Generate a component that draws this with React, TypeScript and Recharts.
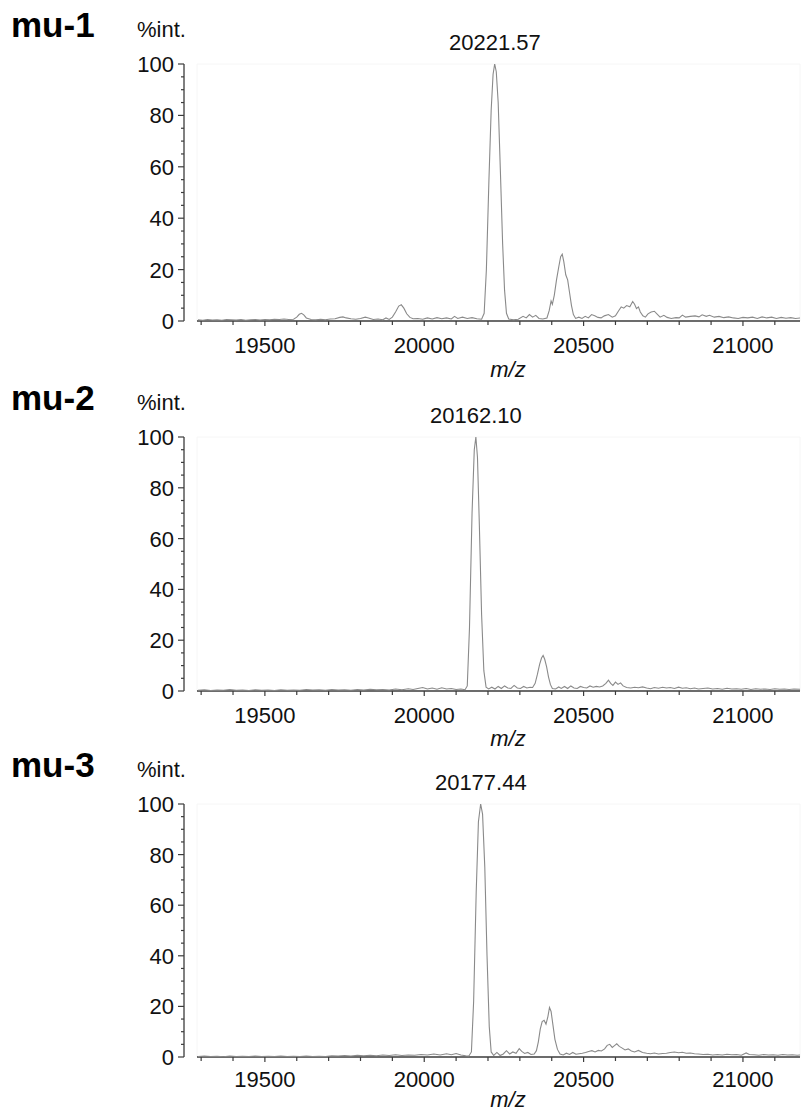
import React from "react";
import { LineChart, Line, XAxis, YAxis, ReferenceLine, ReferenceDot, ReferenceArea } from "recharts";

// ---------- data ----------
const xTicks = [19300, 19400, 19500, 19600, 19700, 19800, 19900, 20000, 20100, 20200, 20300, 20400, 20500, 20600, 20700, 20800, 20900, 21000, 21100];
const xLabelTicks = [19500, 20000, 20500, 21000];
const yTicks = [0, 5, 10, 15, 20, 25, 30, 35, 40, 45, 50, 55, 60, 65, 70, 75, 80, 85, 90, 95, 100];
const yLabelTicks = [0, 20, 40, 60, 80, 100];

const sampleNames = ["mu-1", "mu-2", "mu-3"];
const peakMz = [20221.57, 20162.1, 20177.44];
const peakLabels = ["20221.57", "20162.10", "20177.44"];

const mu1Spectrum: [number, number][] = [
  [19290, 0.5], [19305, 0.3], [19320, 0.6], [19335, 0.4], [19350, 0.5], [19365, 0.3], [19380, 0.6], [19395, 0.5],
  [19410, 0.4], [19425, 0.6], [19440, 0.3], [19455, 0.5], [19470, 0.6], [19485, 0.4], [19500, 0.6], [19515, 0.5],
  [19530, 0.7], [19545, 0.6], [19560, 0.8], [19575, 0.6], [19590, 0.7], [19600, 1.5], [19608, 2.6], [19615, 3.0],
  [19622, 2.4], [19630, 1.2], [19645, 0.6], [19660, 0.5], [19675, 0.7], [19690, 0.5], [19705, 0.8], [19720, 0.9],
  [19735, 1.4], [19745, 1.6], [19755, 1.2], [19770, 0.9], [19785, 0.7], [19800, 1.0], [19815, 1.5], [19825, 1.2],
  [19840, 0.6], [19855, 0.8], [19870, 0.5], [19880, 1.2], [19890, 0.6], [19900, 1.5], [19910, 3.5], [19920, 5.8],
  [19928, 6.3], [19936, 5.0], [19945, 2.8], [19955, 1.4], [19965, 0.9], [19980, 1.0], [19995, 0.7], [20010, 1.2],
  [20025, 0.8], [20040, 1.3], [20055, 0.9], [20070, 1.2], [20085, 0.8], [20095, 1.8], [20105, 1.0], [20120, 1.5],
  [20135, 1.0], [20150, 1.3], [20165, 0.9], [20180, 0.7], [20188, 3], [20195, 20], [20203, 55], [20210, 82],
  [20216, 96], [20221, 100], [20226, 97], [20232, 85], [20239, 58], [20246, 30], [20252, 12], [20258, 3],
  [20265, 0.8], [20280, 0.5], [20295, 0.7], [20310, 1.8], [20320, 1.2], [20330, 2.5], [20340, 1.5], [20350, 2.2],
  [20360, 1.0], [20372, 0.8], [20385, 1.2], [20392, 4], [20398, 7.8], [20402, 6.5], [20408, 10], [20415, 16],
  [20422, 21], [20428, 25], [20433, 26], [20438, 23], [20444, 18], [20450, 16], [20456, 11], [20462, 6],
  [20468, 2.5], [20475, 1.0], [20485, 1.5], [20495, 1.0], [20505, 1.8], [20515, 1.2], [20525, 2.5], [20535, 2.0],
  [20545, 1.4], [20555, 1.2], [20565, 2.0], [20578, 2.5], [20590, 1.5], [20600, 2.0], [20610, 4.0], [20618, 5.5],
  [20626, 5.0], [20635, 6.0], [20645, 5.5], [20654, 7.6], [20660, 6.5], [20666, 4.8], [20672, 5.5], [20678, 3.5],
  [20686, 2.0], [20694, 1.5], [20702, 2.8], [20712, 3.5], [20722, 3.8], [20730, 2.8], [20740, 1.5], [20752, 2.2],
  [20762, 1.4], [20775, 1.0], [20790, 1.3], [20800, 1.2], [20810, 2.3], [20820, 1.5], [20835, 1.8], [20850, 2.0],
  [20862, 1.6], [20872, 2.4], [20885, 1.8], [20895, 2.2], [20910, 1.5], [20925, 1.8], [20940, 1.3], [20955, 1.6],
  [20970, 1.2], [20985, 1.0], [21000, 1.4], [21015, 1.2], [21030, 1.5], [21045, 1.0], [21060, 1.6], [21075, 1.2],
  [21090, 1.5], [21105, 1.0], [21120, 1.4], [21135, 1.1], [21150, 1.3], [21165, 1.0], [21180, 1.2],
];

const mu2Spectrum: [number, number][] = [
  [19290, 0.3], [19310, 0.5], [19330, 0.2], [19350, 0.4], [19370, 0.3], [19390, 0.6], [19410, 0.3], [19430, 0.4],
  [19450, 0.2], [19470, 0.5], [19490, 0.3], [19510, 0.4], [19530, 0.2], [19550, 0.5], [19570, 0.3], [19590, 0.4],
  [19610, 0.3], [19630, 0.6], [19650, 0.4], [19670, 0.5], [19690, 0.3], [19710, 0.6], [19730, 0.4], [19750, 0.5],
  [19770, 0.3], [19790, 0.6], [19810, 0.4], [19830, 0.7], [19850, 0.5], [19870, 0.6], [19890, 0.4], [19910, 0.8],
  [19930, 0.5], [19950, 0.9], [19965, 0.6], [19980, 1.0], [19995, 1.4], [20010, 0.8], [20025, 1.2], [20040, 0.7],
  [20055, 1.3], [20070, 0.8], [20085, 1.0], [20100, 0.6], [20115, 0.8], [20128, 0.5], [20135, 2], [20142, 25],
  [20150, 70], [20157, 95], [20162, 100], [20167, 92], [20173, 65], [20180, 30], [20187, 8], [20194, 1.5],
  [20202, 0.8], [20212, 1.5], [20222, 0.8], [20232, 1.8], [20242, 1.0], [20252, 2.0], [20262, 1.2], [20272, 1.0],
  [20282, 2.2], [20292, 1.2], [20302, 1.0], [20312, 1.8], [20322, 1.2], [20332, 1.5], [20340, 1.4], [20348, 3],
  [20355, 6.5], [20362, 10.5], [20368, 13], [20373, 14], [20378, 12.5], [20384, 9.5], [20390, 5.5], [20396, 2.5],
  [20402, 1.0], [20412, 0.8], [20422, 1.6], [20430, 1.0], [20440, 1.8], [20450, 1.0], [20460, 2.0], [20470, 1.2],
  [20480, 1.0], [20490, 1.8], [20500, 1.4], [20510, 1.2], [20520, 2.0], [20530, 1.5], [20540, 1.8], [20550, 1.6],
  [20560, 2.0], [20570, 3.0], [20578, 4.3], [20585, 3.0], [20592, 2.2], [20600, 3.5], [20608, 2.6], [20616, 3.2],
  [20624, 2.0], [20635, 1.4], [20648, 1.2], [20660, 1.5], [20672, 1.3], [20685, 1.6], [20698, 1.2], [20710, 0.9],
  [20722, 1.4], [20735, 1.1], [20748, 1.5], [20760, 1.2], [20772, 1.4], [20785, 1.0], [20798, 1.5], [20810, 1.1],
  [20822, 1.3], [20835, 0.9], [20848, 1.2], [20860, 0.8], [20875, 1.0], [20890, 1.2], [20905, 0.8], [20920, 1.0],
  [20935, 0.7], [20950, 1.1], [20965, 0.8], [20980, 0.9], [20995, 0.7], [21010, 1.0], [21025, 0.6], [21040, 0.9],
  [21055, 0.7], [21070, 0.8], [21085, 0.6], [21100, 0.9], [21115, 0.7], [21130, 0.8], [21145, 0.6], [21160, 0.8],
  [21180, 0.7],
];

const mu3Spectrum: [number, number][] = [
  [19290, 0.2], [19310, 0.4], [19330, 0.2], [19350, 0.3], [19370, 0.1], [19390, 0.4], [19410, 0.2], [19430, 0.3],
  [19450, 0.2], [19470, 0.4], [19490, 0.2], [19510, 0.3], [19530, 0.2], [19550, 0.4], [19570, 0.2], [19590, 0.3],
  [19610, 0.2], [19630, 0.4], [19650, 0.2], [19670, 0.3], [19690, 0.2], [19710, 0.5], [19730, 0.4], [19750, 0.6],
  [19770, 0.4], [19790, 0.7], [19810, 0.5], [19830, 0.7], [19850, 0.5], [19870, 0.8], [19890, 0.6], [19910, 0.9],
  [19930, 0.6], [19950, 0.8], [19970, 0.7], [19990, 1.0], [20010, 0.8], [20030, 1.2], [20050, 0.8], [20070, 1.3],
  [20085, 0.9], [20100, 1.4], [20115, 0.8], [20130, 0.5], [20140, 0.4], [20148, 2], [20155, 22], [20163, 65],
  [20170, 93], [20177, 100], [20183, 96], [20190, 75], [20197, 40], [20204, 12], [20210, 2], [20218, 0.6],
  [20228, 1.8], [20238, 0.6], [20248, 1.2], [20258, 2.5], [20268, 1.2], [20278, 2.0], [20288, 1.5], [20298, 3.3],
  [20306, 2.2], [20315, 1.4], [20325, 1.8], [20335, 1.0], [20345, 1.2], [20352, 2.5], [20358, 6], [20364, 11],
  [20370, 14], [20376, 14.5], [20382, 13], [20388, 16], [20393, 19.6], [20398, 18], [20404, 12.5], [20410, 7],
  [20418, 3], [20426, 1.2], [20436, 0.8], [20446, 1.5], [20456, 1.0], [20466, 1.8], [20476, 1.1], [20486, 1.3],
  [20496, 1.5], [20506, 1.8], [20516, 2.2], [20526, 2.5], [20536, 2.0], [20546, 2.6], [20556, 2.4], [20566, 3.2],
  [20574, 4.6], [20582, 5.0], [20590, 3.8], [20598, 4.6], [20604, 5.2], [20612, 4.2], [20620, 3.6], [20630, 2.8],
  [20640, 3.2], [20650, 2.4], [20660, 2.0], [20672, 2.6], [20685, 1.8], [20698, 1.5], [20710, 1.3], [20722, 1.6],
  [20735, 1.2], [20748, 1.4], [20760, 1.5], [20772, 1.8], [20785, 2.0], [20798, 1.7], [20810, 1.9], [20822, 1.5],
  [20835, 1.6], [20848, 1.3], [20860, 1.2], [20875, 1.0], [20890, 1.1], [20905, 0.8], [20920, 1.0], [20935, 0.8],
  [20950, 1.1], [20965, 0.9], [20980, 1.0], [20995, 0.7], [21010, 1.6], [21020, 1.0], [21035, 0.9], [21050, 0.7],
  [21065, 1.0], [21080, 0.8], [21095, 0.9], [21110, 0.7], [21125, 1.0], [21140, 0.8], [21155, 0.9], [21170, 0.7],
  [21180, 0.8],
];

const spectra = [mu1Spectrum, mu2Spectrum, mu3Spectrum];

// ---------- layout / style ----------
const X_MIN = 19287;
const X_MAX = 21179;
const PLOT_TOPS = [64, 437, 804]; // page y of the 100 % line
const PLOT_HEIGHTS = [257, 254, 253];
const XLABEL_OFFSETS = [32, 32, 30];
const MZ_OFFSETS = [56, 55, 50];
const TOP_MARGIN = 64;
const FONT = "'Liberation Sans', Arial, Helvetica, sans-serif";
const AXIS_COLOR = "#3c3c3c";
const TRACE_COLOR = "#8a8a8a";
const FS = 22;

const YTick = (props: any) => {
  const { x, y, payload } = props;
  const v = payload.value;
  const major = yLabelTicks.includes(v);
  return (
    <g>
      <line x1={x - (major ? 6 : 3)} x2={x} y1={y} y2={y} stroke={AXIS_COLOR} strokeWidth={1.2} />
      {major && (
        <text x={x - 10} y={y} dy={8} textAnchor="end" fontSize={FS} fontFamily={FONT} fill="#111">
          {v}
        </text>
      )}
    </g>
  );
};

const makeXTick = (labelOffset: number) => (props: any) => {
  const { x, y, payload } = props;
  const v = payload.value;
  const major = xLabelTicks.includes(v);
  return (
    <g>
      <line x1={x} x2={x} y1={y} y2={y + (major ? 5 : 4)} stroke={AXIS_COLOR} strokeWidth={1.2} />
      {major && (
        <text x={x} y={y + labelOffset} textAnchor="middle" fontSize={FS} fontFamily={FONT} fill="#111">
          {v}
        </text>
      )}
    </g>
  );
};

const Panel = ({ idx }: { idx: number }) => {
  const data = spectra[idx].map(([mz, v]) => ({ mz, int: v }));
  const plotH = PLOT_HEIGHTS[idx];
  const chartH = TOP_MARGIN + plotH + 64;
  const wrapperTop = PLOT_TOPS[idx] - TOP_MARGIN;
  const XTick = makeXTick(XLABEL_OFFSETS[idx]);
  return (
    <div style={{ position: "absolute", left: 0, top: wrapperTop, width: 804, height: chartH }}>
      <LineChart
        width={804}
        height={chartH}
        data={data}
        margin={{ top: TOP_MARGIN, right: 4, bottom: 0, left: 0 }}
      >
        <ReferenceArea
          x1={X_MIN}
          x2={X_MAX}
          y1={0}
          y2={100}
          fill="none"
          stroke="#f6f6f6"
          strokeWidth={1}
          ifOverflow="visible"
        />
        <XAxis
          dataKey="mz"
          type="number"
          domain={[X_MIN, X_MAX]}
          allowDataOverflow
          ticks={xTicks}
          interval={0}
          padding={{ left: 13, right: 0 }}
          axisLine={false}
          tickLine={false}
          tickSize={0}
          tickMargin={0}
          tick={<XTick />}
          height={64}
        />
        <YAxis
          type="number"
          domain={[0, 100]}
          allowDataOverflow
          ticks={yTicks}
          interval={0}
          width={184}
          axisLine={{ stroke: AXIS_COLOR, strokeWidth: 1.3 }}
          tickLine={false}
          tickSize={0}
          tickMargin={0}
          tick={<YTick />}
        />
        <ReferenceLine
          segment={[
            { x: X_MIN, y: 0 },
            { x: X_MAX, y: 0 },
          ]}
          stroke={AXIS_COLOR}
          strokeWidth={1.4}
          ifOverflow="visible"
        />
        <Line
          type="linear"
          dataKey="int"
          stroke={TRACE_COLOR}
          strokeWidth={1.1}
          dot={false}
          isAnimationActive={false}
        />
        <ReferenceDot
          x={peakMz[idx]}
          y={100}
          r={0}
          ifOverflow="visible"
          shape={(p: any) => (
            <text x={p.cx} y={p.cy - 14} textAnchor="middle" fontSize={FS} fontFamily={FONT} fill="#111">
              {peakLabels[idx]}
            </text>
          )}
        />
      </LineChart>
      <svg
        width={804}
        height={chartH}
        style={{ position: "absolute", left: 0, top: 0, pointerEvents: "none" }}
      >
        <text x={11} y={37} fontSize={35} fontWeight="bold" fontFamily={FONT} fill="#000">
          {sampleNames[idx]}
        </text>
        <text x={137} y={37} fontSize={FS} fontFamily={FONT} fill="#111">
          %int.
        </text>
        <text
          x={508}
          y={TOP_MARGIN + plotH + MZ_OFFSETS[idx]}
          textAnchor="middle"
          fontSize={FS}
          fontStyle="italic"
          fontFamily={FONT}
          fill="#111"
        >
          m/z
        </text>
      </svg>
    </div>
  );
}

export default function App() {
  return (
    <div
      style={{
        position: "absolute",
        left: 0,
        top: 0,
        width: 804,
        height: 1113,
        background: "#fff",
        overflow: "hidden",
      }}
    >
      {[0, 1, 2].map((i) => (
        <Panel key={i} idx={i} />
      ))}
    </div>
  );
}
